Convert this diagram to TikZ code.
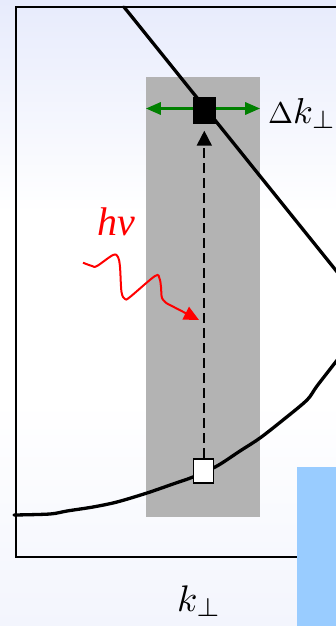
\documentclass[tikz,border=0pt]{standalone}
\usepackage{fontspec}
\newfontfamily\tnr{Liberation Serif}
\usetikzlibrary{arrows.meta}
\definecolor{bgtop}{RGB}{231,235,252}
\definecolor{bgbot}{RGB}{243,245,253}
\definecolor{bandgray}{RGB}{179,179,179}
\definecolor{bluebox}{RGB}{153,204,255}
\definecolor{arrgreen}{RGB}{0,128,0}
\pgfdeclareverticalshading{bgsh}{100bp}{color(0bp)=(bgbot); color(25bp)=(bgbot); color(43bp)=(white); color(58bp)=(white); color(75bp)=(bgtop); color(100bp)=(bgtop)}
\tikzset{
  bandbox/.style={fill=bandgray, draw=none, minimum width=114pt, minimum height=440pt, inner sep=0pt},
  statebox/.style={draw=black, line width=1.8pt, inner sep=0pt},
  bandline/.style={line width=3.3pt, line join=round, line cap=round},
  lbl/.style={inner sep=0pt, anchor=base west},
}
\begin{document}
\begin{tikzpicture}[x=1pt,y=-1pt]
\useasboundingbox (0,0) rectangle (336,626);
\begin{scope}
\clip (0,0) rectangle (336,626);
\shade[shading=bgsh] (0,0) rectangle (336,626);
% frame
\draw[line width=2.2pt] (16,7) rectangle (345,557);
% blue box
\fill[bluebox] (297,467) rectangle (340,630);
% gray band
\node[bandbox] (band) at (203,297) {};
% dispersion curves
\draw[bandline] plot[smooth, tension=0.5] coordinates {(14,515) (50,514) (67,511) (93,507) (117,502) (147,493) (173,484) (193,477) (217,466) (240,451) (260,438) (283,420) (307,400) (317,386) (338,359)};
\draw[bandline] (124,7) -- (338,273);
% green arrow
\draw[arrgreen, line width=3pt, {Triangle[length=15pt,width=12pt]}-{Triangle[length=15pt,width=12pt]}] (band.west |- 0,108.5) -- (band.east |- 0,108.5);
% states
\node[fill=black, minimum width=23pt, minimum height=27pt, inner sep=0pt] (bs) at (204.7,110) {};
\node[statebox, fill=white, minimum width=20pt, minimum height=24pt] (ws) at (203.5,470.8) {};
% dashed transition
\draw[line width=1.8pt, dash pattern=on 10pt off 5pt, -{Triangle[length=15pt,width=15pt]}, shorten >=7pt] (ws.north -| 204.3,0) -- (bs.south -| 204.3,0);
% photon
\coordinate (ph) at (199,320);
\draw[red, line width=2pt, -{Triangle[length=15pt,width=14pt]}] plot[smooth, tension=0.55] coordinates {(83,262.7) (92,266) (97,266) (113,255) (118,257) (120,267) (121.5,292) (125,299) (130,297) (155,276) (159.5,278.5) (161,287) (162,298) (167,303.5)} -- (ph);
% labels
\node[lbl, red] (hv) at (97,235) {\fontsize{40}{40}\selectfont\tnr\itshape hv};
\node[lbl] (dk) at (268,123) {\scalebox{3.0}{$\Delta$}\scalebox{3.6}{$k_\perp$}};
\node[lbl] (kp) at (177,611) {\scalebox{3.7}{$k_\perp$}};
\end{scope}
\end{tikzpicture}
\end{document}
